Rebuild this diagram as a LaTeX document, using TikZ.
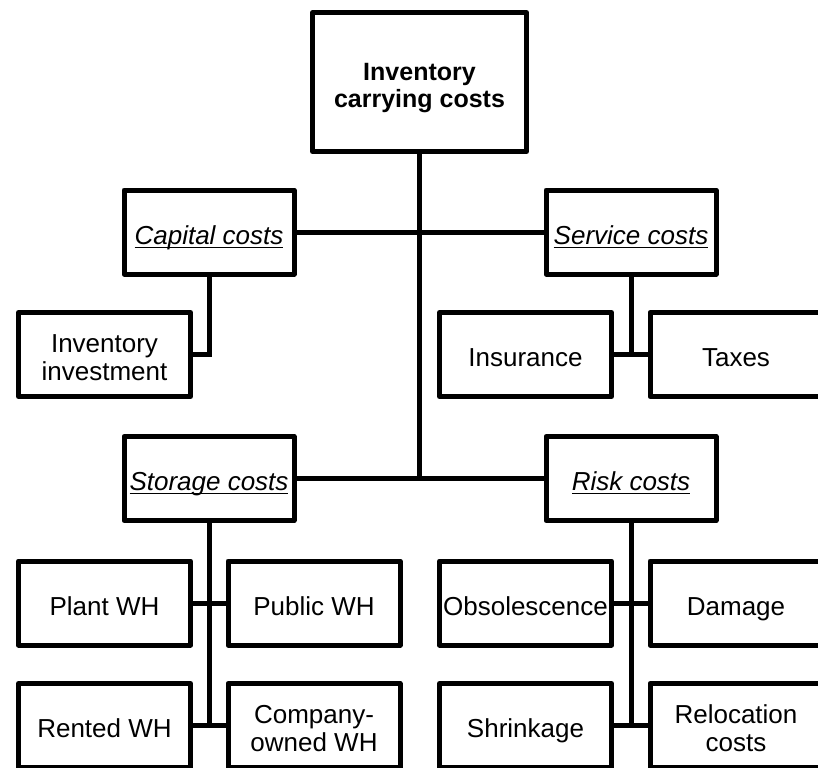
\documentclass[tikz,border=0pt]{standalone}
\usepackage{fontspec}
\setmainfont{Liberation Sans}
\usepackage{tikz}
\usetikzlibrary{positioning}

\newcommand{\topstrut}{\rule{0pt}{15.4pt}}
\newcommand{\botstrut}{\rule[-3.2pt]{0pt}{3.2pt}}
\newcommand{\twolines}[2]{\topstrut#1\\#2\botstrut}
\tikzset{
  box/.style={draw, line width=2.5pt, line join=round, inner sep=0pt,
    minimum width=86pt, minimum height=42pt, align=center,
    font=\fontsize{13}{14}\selectfont,
    execute at begin node=\topstrut, execute at end node=\botstrut},
  group/.style={box, minimum width=85pt},
  link/.style={line width=2.5pt}
}
\newcommand{\grouplabel}[1]{\underline{\smash{\textit{#1}}}}

\begin{document}
\begin{tikzpicture}[x=0.5pt, y=-0.5pt]
\useasboundingbox (0,0) rectangle (818,767);
\clip (0,0) rectangle (818,767);
% root
\node[box, minimum width=107pt, minimum height=69.5pt, font=\bfseries\fontsize{12.5}{13.5}\selectfont]
  (cost) at (419.5,82) {\twolines{Inventory}{carrying costs}};
% cost groups
\node[group] (capital) at (209,232) {\grouplabel{Capital costs}};
\node[group] (service) at (631,232) {\grouplabel{Service costs}};
\node[group] (storage) at (209,478.5) {\grouplabel{Storage costs}};
\node[group] (risk) at (631,478.5) {\grouplabel{Risk costs}};
% items
\node[box] (invest) at (104.5,354.5) {\twolines{Inventory}{investment}};
\node[box] (insur) at (525.5,354.5) {Insurance};
\node[box] (taxes) at (736,354.5) {Taxes};
\node[box] (plant) at (104.5,603) {Plant WH};
\node[box] (public) at (314,603) {Public WH};
\node[box] (obsol) at (525.5,603) {Obsolescence};
\node[box] (damage) at (736,603) {Damage};
\node[box] (rented) at (104.5,725.5) {Rented WH};
\node[box] (company) at (314,725.5) {\twolines{Company-}{owned WH}};
\node[box] (shrink) at (525.5,725.5) {Shrinkage};
\node[box] (reloc) at (736,725.5) {\twolines{Relocation}{costs}};
% trunk
\draw[link] (cost.south) -- (cost.south |- storage.east);
\draw[link] (capital.east) -- (service.west);
\draw[link] (storage.east) -- (risk.west);
% branches
\draw[link] (capital.south) |- (invest.east);
\draw[link] (service.south) -- (service.south |- insur.east);
\draw[link] (insur.east) -- (taxes.west);
\draw[link] (storage.south) -- (storage.south |- rented.east);
\draw[link] (plant.east) -- (public.west);
\draw[link] (rented.east) -- (company.west);
\draw[link] (risk.south) -- (risk.south |- shrink.east);
\draw[link] (obsol.east) -- (damage.west);
\draw[link] (shrink.east) -- (reloc.west);
\end{tikzpicture}
\end{document}
